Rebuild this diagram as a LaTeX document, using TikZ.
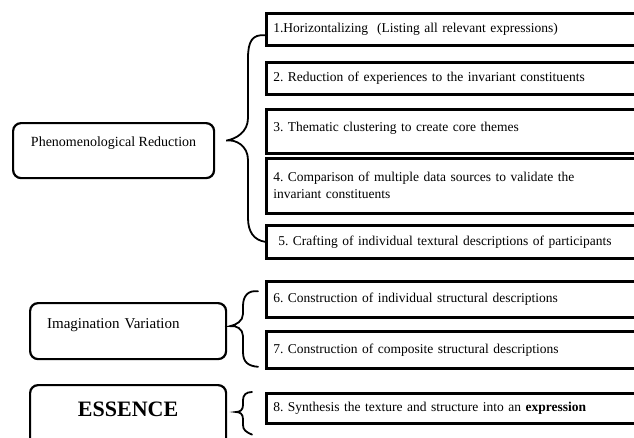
\documentclass[tikz,border=0pt]{standalone}
\usepackage{fontspec}
\setmainfont{Liberation Serif}
\usetikzlibrary{positioning}
\frenchspacing

\tikzset{
  stage/.style = {draw, line width=2.2pt, rounded corners=8pt, inner ysep=0pt, anchor=north west},
  stepbox/.style = {draw, line width=2.6pt, anchor=north west, text width=386pt, inner xsep=7pt,
    align=left, font=\fontsize{13.5}{17}\selectfont},
  curly/.style = {line width=1.8pt, line cap=round}
}

\begin{document}
\begin{tikzpicture}[x=1pt, y=-1pt]
  \clip (0,0) rectangle (634,437);
  % stages on the left
  \node (phen) [stage, minimum width=201pt, text height=23pt, text depth=32pt,
    font=\fontsize{14}{16}\selectfont] at (12,122) {Phenomenological Reduction};
  \node (imag) [stage, text width=162pt, inner xsep=17pt, align=left, text height=25pt, text depth=31pt,
    font=\fontsize{15}{17}\selectfont] at (29,302) {Imagination Variation};
  \node (ess) [stage, minimum width=196pt, text height=31pt, text depth=35pt,
    font=\fontsize{22}{24}\selectfont\bfseries] at (29,384) {ESSENCE};
  % steps on the right
  \node (r1) [stepbox, minimum height=32pt] at (265,12) {1.Horizontalizing\ \ (Listing all relevant expressions)};
  \node (r2) [stepbox, minimum height=32pt] at (265,61) {2. Reduction of experiences to the invariant constituents};
  \node (r3) [stepbox, minimum height=44pt, text depth=8pt] at (265,108) {3. Thematic clustering to create core themes};
  \node (r4) [stepbox, minimum height=55pt] at (265,157) {4. Comparison of multiple data sources to validate the\\invariant constituents};
  \node (r5) [stepbox, minimum height=33pt] at (265,224) {\hspace*{5pt}5. Crafting of individual textural descriptions of participants};
  \node (r6) [stepbox, minimum height=36pt] at (265,280) {6. Construction of individual structural descriptions};
  \node (r7) [stepbox, minimum height=37pt] at (265,330) {7. Construction of composite structural descriptions};
  \node (r8) [stepbox, minimum height=30pt] at (265,392) {8. Synthesis the texture and structure into an \textbf{expression}};
  % brace tips
  \coordinate (tip1) at ([xshift=11pt, yshift=10pt]phen.east);
  \coordinate (tip2) at ([xshift=3pt, yshift=5pt]imag.east);
  \coordinate (tip3) at (236,412);
  % braces
  \draw [curly] ([yshift=-6pt]r1.west) .. controls (252,34) and (248,42) .. (248,58)
    -- (248,118) .. controls (248,132) and (236,139) .. (tip1)
    .. controls (236,139) and (248,146) .. (248,160)
    -- (248,218) .. controls (248,232) and (254,240) .. (r5.west);
  \draw [curly] ([xshift=-7pt, yshift=8pt]r6.west) .. controls (248,290) and (243,296) .. (243,306)
    -- (243,314) .. controls (243,321) and (236,325) .. (tip2)
    .. controls (236,325) and (243,329) .. (243,336)
    -- (243,352) .. controls (243,362) and (248,366) .. ([xshift=-7pt, yshift=-17pt]r7.west);
  \draw [curly] ([xshift=-13pt]r8.north west) .. controls (246,392) and (243,395) .. (243,400)
    -- (243,405) .. controls (243,410) and (240,412) .. (tip3)
    .. controls (240,412) and (243,414) .. (243,419)
    -- (243,425) .. controls (243,430) and (246,432) .. ([xshift=-13pt, yshift=-10pt]r8.south west);
\end{tikzpicture}
\end{document}
